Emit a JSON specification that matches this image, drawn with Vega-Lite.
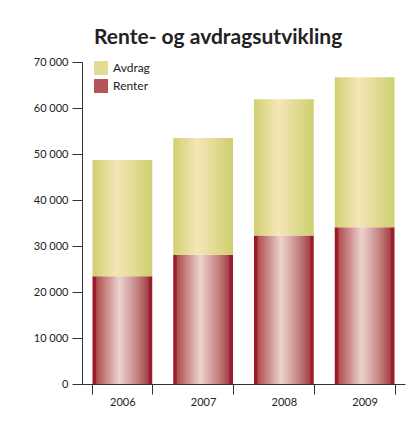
{
  "$schema": "https://vega.github.io/schema/vega-lite/v6.json",
  "width": 323,
  "height": 322,
  "padding": {"left": 10, "top": 27, "right": 5, "bottom": 5},
  "background": "white",
  "config": {
    "view": {"stroke": null},
    "font": "Lato",
    "locale": {"number": {"decimal": ",", "thousands": " ", "grouping": [3], "currency": ["", " kr"]}}
  },
  "title": {
    "text": "Rente- og avdragsutvikling",
    "anchor": "start",
    "frame": "group",
    "dx": 12,
    "font": "Lato",
    "fontSize": 21,
    "fontWeight": "bold",
    "color": "#222222",
    "offset": 8
  },
  "data": {
    "values": [
      {"year": "2006", "type": "Renter", "value": 23400},
      {"year": "2006", "type": "Avdrag", "value": 25300},
      {"year": "2007", "type": "Renter", "value": 28100},
      {"year": "2007", "type": "Avdrag", "value": 25400},
      {"year": "2008", "type": "Renter", "value": 32300},
      {"year": "2008", "type": "Avdrag", "value": 29600},
      {"year": "2009", "type": "Renter", "value": 34100},
      {"year": "2009", "type": "Avdrag", "value": 32600}
    ]
  },
  "transform": [
    {"stack": "value", "groupby": ["year"], "sort": [{"field": "type", "order": "descending"}], "as": ["v0", "v1"]}
  ],
  "encoding": {
    "x": {
      "field": "year",
      "type": "nominal",
      "scale": {"paddingInner": 0.26, "paddingOuter": 0.13},
      "axis": {
        "title": null,
        "labelAngle": 0,
        "tickBand": "extent",
        "tickSize": 10,
        "tickColor": "#333333",
        "domainColor": "#333333",
        "labelFontSize": 11,
        "labelColor": "#222222",
        "labelPadding": 2
      }
    },
    "y": {
      "field": "v0",
      "type": "quantitative",
      "scale": {"domain": [0, 70000], "nice": false},
      "axis": {
        "title": null,
        "values": [0, 10000, 20000, 30000, 40000, 50000, 60000, 70000],
        "format": ",d",
        "grid": false,
        "tickSize": 10,
        "tickColor": "#333333",
        "domainColor": "#333333",
        "labelFontSize": 11,
        "labelColor": "#222222",
        "labelPadding": 4,
        "minExtent": 72,
        "maxExtent": 72
      }
    },
    "y2": {"field": "v1"}
  },
  "layer": [
    {
      "transform": [{"filter": "datum.type === 'Renter'"}],
      "mark": {
        "type": "bar",
        "fill": {"gradient": "linear", "x1": 0, "x2": 1, "y1": 0, "y2": 0,
          "stops": [
            {"offset": 0, "color": "#98182a"},
            {"offset": 0.05, "color": "#9d1d2d"},
            {"offset": 0.07, "color": "#b0504f"},
            {"offset": 0.45, "color": "#ecd3cf"},
            {"offset": 0.75, "color": "#c48380"},
            {"offset": 0.93, "color": "#a7424a"},
            {"offset": 0.95, "color": "#9b1c2d"},
            {"offset": 1, "color": "#9b1c2d"}
          ]}
      }
    },
    {
      "transform": [{"filter": "datum.type === 'Avdrag'"}],
      "mark": {
        "type": "bar",
        "fill": {"gradient": "linear", "x1": 0, "x2": 1, "y1": 0, "y2": 0,
          "stops": [
            {"offset": 0, "color": "#cfd072"},
            {"offset": 0.4, "color": "#f5e6b6"},
            {"offset": 1, "color": "#cdcf6e"}
          ]}
      }
    },
    {
      "mark": {"type": "bar", "opacity": 0},
      "encoding": {
        "color": {
          "field": "type",
          "type": "nominal",
          "scale": {"domain": ["Avdrag", "Renter"], "range": ["#e2dc96", "#b5545a"]},
          "legend": {
            "title": null,
            "orient": "none",
            "legendX": 12,
            "legendY": -1,
            "symbolType": "square",
            "symbolSize": 196,
            "symbolStrokeWidth": 0,
            "symbolOpacity": 1,
            "rowPadding": 4,
            "labelFontSize": 12,
            "labelColor": "#222222",
            "labelOffset": 5
          }
        }
      }
    }
  ]
}
